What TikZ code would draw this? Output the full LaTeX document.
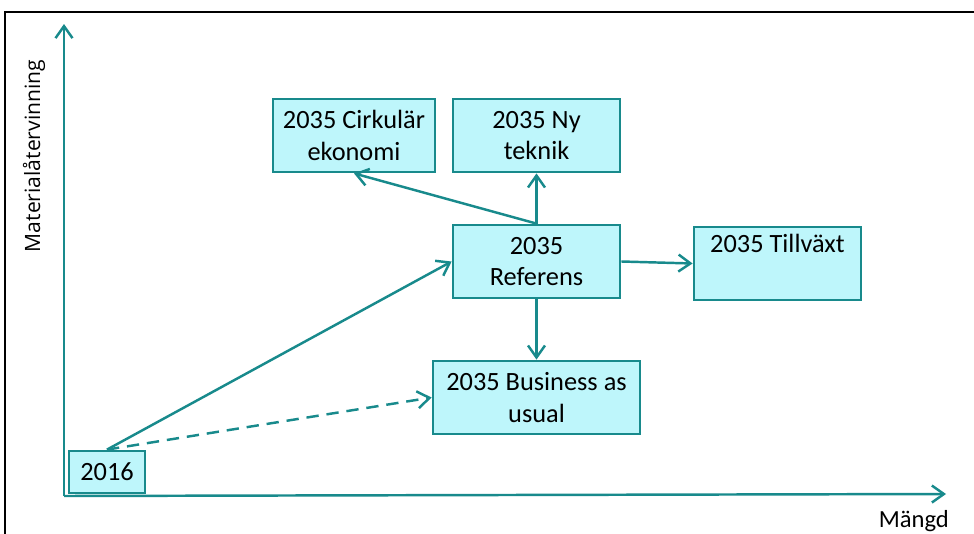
\documentclass[tikz,border=0pt]{standalone}
\usepackage{fontspec}
\setmainfont{Carlito}
\newfontfamily\axisfont{Open Sans}
\usetikzlibrary{arrows.meta}
\definecolor{TealClr}{RGB}{24,138,140}
\definecolor{BoxClr}{RGB}{190,246,251}

\begin{document}
\begin{tikzpicture}[x=0.02cm,y=-0.02cm,
  scenario/.style={draw=TealClr,fill=BoxClr,line width=1.6pt,align=center,
    inner sep=0pt,font=\fontsize{15}{18}\selectfont},
  flow/.style={draw=TealClr,line width=1.4pt,-{Straight Barb[length=2.4mm,width=3.4mm]}}]
\useasboundingbox (0,0) rectangle (974,534);

% frame
\draw[line width=0.8pt] (5,534) -- (5,12) -- (974,12);

% axes
\coordinate (O) at (64,496);
\coordinate (Ytop) at (64,24);
\coordinate (Xend) at (946,494);
\draw[flow] (O) -- (Ytop);
\draw[flow] (O) -- (Xend);
\node[rotate=90,font=\axisfont\fontsize{12}{14}\selectfont] (ylab) at (34,156) {Materialåtervinning};
\node[anchor=base east,font=\fontsize{14}{17}\selectfont] (xlab) at (955,527) {Mängd};

% boxes
\node[scenario,minimum width=162*0.02cm,minimum height=73*0.02cm] (circ) at (354,135.5) {2035 Cirkulär\\ekonomi};
\node[scenario,minimum width=167*0.02cm,minimum height=73*0.02cm] (ny) at (536.5,135.5) {2035 Ny\\teknik};
\node[scenario,minimum width=167*0.02cm,minimum height=73*0.02cm] (ref) at (536.5,261.5) {2035\\Referens};
\node[scenario,minimum width=167*0.02cm,minimum height=73*0.02cm] (tillv) at (777.5,263.5) {2035 Tillväxt\\\strut};
\node[scenario,minimum width=207*0.02cm,minimum height=73*0.02cm] (bau) at (536.5,397.5) {2035 Business as\\usual};
\node[scenario,minimum width=76*0.02cm,minimum height=42*0.02cm] (y16) at (107,472) {2016};

% connectors
\draw[flow] (ref.north) -- (ny.south);
\draw[flow] (ref.north) -- (circ.south);
\draw[flow] (ref.east) -- (tillv.west);
\draw[flow] (ref.south) -- (bau.north);
\draw[flow] (y16.north) -- (ref.west);
\draw[flow,dashed,dash pattern=on 7pt off 4.5pt] (y16.north) -- (bau.west);

\end{tikzpicture}
\end{document}
